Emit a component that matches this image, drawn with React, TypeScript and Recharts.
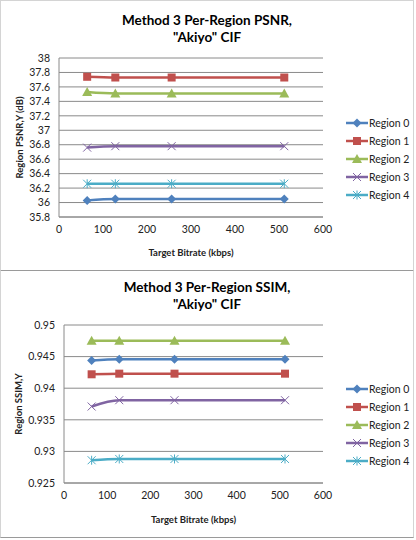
import React from "react";
import { LineChart, Line, XAxis, YAxis, CartesianGrid, Label } from "recharts";

const BITRATES = [64, 128, 256, 512];
const X_TICKS = [0, 100, 200, 300, 400, 500, 600];

const PSNR_TICKS = [35.8, 36, 36.2, 36.4, 36.6, 36.8, 37, 37.2, 37.4, 37.6, 37.8, 38];
const PSNR_REGION_0 = [36.03, 36.05, 36.05, 36.05];
const PSNR_REGION_1 = [37.74, 37.73, 37.73, 37.73];
const PSNR_REGION_2 = [37.53, 37.51, 37.51, 37.51];
const PSNR_REGION_3 = [36.76, 36.78, 36.78, 36.78];
const PSNR_REGION_4 = [36.26, 36.26, 36.26, 36.26];

const SSIM_TICKS = [0.925, 0.93, 0.935, 0.94, 0.945, 0.95];
const SSIM_REGION_0 = [0.9444, 0.9446, 0.9446, 0.9446];
const SSIM_REGION_1 = [0.9422, 0.9423, 0.9423, 0.9423];
const SSIM_REGION_2 = [0.9475, 0.9475, 0.9475, 0.9475];
const SSIM_REGION_3 = [0.9371, 0.9381, 0.9381, 0.9381];
const SSIM_REGION_4 = [0.9286, 0.9288, 0.9288, 0.9288];

const REGION_NAMES = ["Region 0", "Region 1", "Region 2", "Region 3", "Region 4"];
const REGION_COLORS = ["#4f81bd", "#c0504d", "#9bbb59", "#8064a2", "#4bacc6"];
const REGION_MARKERS = ["diamond", "square", "triangle", "cross", "star"];

const FONT = "Lato, 'Liberation Sans', sans-serif";
const TEXT = "#222";
const GRID = "#8a8a8a";

function buildRows(series: number[][]) {
  return BITRATES.map((b, i) => {
    const row: Record<string, number> = { bitrate: b };
    series.forEach((s, k) => (row[`r${k}`] = s[i]));
    return row;
  });
}

function Marker({ cx, cy, shape, color }: { cx: number; cy: number; shape: string; color: string }) {
  if (cx == null || cy == null) return null;
  switch (shape) {
    case "diamond":
      return <polygon points={`${cx},${cy - 4.5} ${cx + 4.5},${cy} ${cx},${cy + 4.5} ${cx - 4.5},${cy}`} fill={color} />;
    case "square":
      return <rect x={cx - 4} y={cy - 4} width={8} height={8} fill={color} />;
    case "triangle":
      return <polygon points={`${cx},${cy - 5} ${cx + 5},${cy + 4} ${cx - 5},${cy + 4}`} fill={color} />;
    case "cross":
      return (
        <g stroke={color} strokeWidth={1}>
          <line x1={cx - 4} y1={cy - 4} x2={cx + 4} y2={cy + 4} />
          <line x1={cx - 4} y1={cy + 4} x2={cx + 4} y2={cy - 4} />
        </g>
      );
    default:
      return (
        <g stroke={color} strokeWidth={1}>
          <line x1={cx - 4} y1={cy - 4} x2={cx + 4} y2={cy + 4} />
          <line x1={cx - 4} y1={cy + 4} x2={cx + 4} y2={cy - 4} />
          <line x1={cx} y1={cy - 4.5} x2={cx} y2={cy + 4.5} />
        </g>
      );
  }
}

function LegendBox({ top }: { top: number }) {
  return (
    <div style={{ position: "absolute", left: 345, top, fontFamily: FONT, fontSize: 10.5, color: TEXT }}>
      {REGION_NAMES.map((name, i) => (
        <div key={name} style={{ display: "flex", alignItems: "center", height: 18 }}>
          <svg width={24} height={12} style={{ display: "block" }}>
            <line x1={1} y1={6} x2={23} y2={6} stroke={REGION_COLORS[i]} strokeWidth={2.5} />
            <Marker cx={12} cy={6} shape={REGION_MARKERS[i]} color={REGION_COLORS[i]} />
          </svg>
          <span style={{ marginLeft: 0 }}>{name}</span>
        </div>
      ))}
    </div>
  );
}

interface RegionChartProps {
  top: number;
  height: number;
  title: string[];
  titleTop: number;
  yTitle: string;
  ticks: number[];
  series: number[][];
  plot: { left: number; right: number; top: number; bottom: number };
  yTitleX: number;
  xTitleGap: number;
  legendTop: number;
}

function RegionChart(p: RegionChartProps) {
  const width = 414;
  const xAxisHeight = 44;
  const rows = buildRows(p.series);
  const tick = { fontSize: 10.5, fill: TEXT, fontFamily: FONT };
  return (
    <div style={{ position: "absolute", left: 0, top: p.top, width, height: p.height }}>
      <div
        style={{
          position: "absolute",
          top: p.titleTop,
          width,
          textAlign: "center",
          fontFamily: FONT,
          fontWeight: 700,
          fontSize: 13.5,
          lineHeight: "17px",
          color: "#000",
        }}
      >
        {p.title.map((t) => (
          <div key={t}>{t}</div>
        ))}
      </div>
      <LineChart
        width={width}
        height={p.height}
        data={rows}
        margin={{ top: p.plot.top, right: width - p.plot.right, left: 0, bottom: p.height - p.plot.bottom - xAxisHeight }}
        style={{ position: "absolute", left: 0, top: 0 }}
      >
        <CartesianGrid vertical={false} stroke={GRID} strokeWidth={1} />
        <XAxis
          dataKey="bitrate"
          type="number"
          domain={[0, 600]}
          ticks={X_TICKS}
          height={xAxisHeight}
          axisLine={{ stroke: GRID }}
          tickLine={false}
          tickSize={0}
          tickMargin={9}
          tick={tick}
        >
          <Label
            value="Target Bitrate (kbps)"
            position="insideBottom"
            offset={xAxisHeight - p.xTitleGap - 4}
            style={{ fontFamily: FONT, fontWeight: 700, fontSize: 9.5, fill: TEXT }}
          />
        </XAxis>
        <YAxis
          type="number"
          domain={[p.ticks[0], p.ticks[p.ticks.length - 1]]}
          ticks={p.ticks}
          interval={0}
          width={p.plot.left}
          axisLine={{ stroke: GRID }}
          tickLine={false}
          tickSize={0}
          tickMargin={9}
          tick={tick}
        >
          <Label
            value={p.yTitle}
            angle={-90}
            position="insideLeft"
            offset={p.yTitleX}
            style={{ textAnchor: "middle", fontFamily: FONT, fontWeight: 700, fontSize: 9.5, fill: TEXT }}
          />
        </YAxis>
        {REGION_NAMES.map((name, k) => (
          <Line
            key={name}
            name={name}
            dataKey={`r${k}`}
            type="monotone"
            stroke={REGION_COLORS[k]}
            strokeWidth={2.5}
            isAnimationActive={false}
            dot={(d: any) => (
              <Marker key={`${name}-${d.index}`} cx={d.cx} cy={d.cy} shape={REGION_MARKERS[k]} color={REGION_COLORS[k]} />
            )}
            activeDot={false}
          />
        ))}
      </LineChart>
      <LegendBox top={p.legendTop} />
    </div>
  );
}

export default function App() {
  return (
    <div style={{ position: "relative", width: 416, height: 540, background: "#fff", overflow: "hidden" }}>
      <style>{`body{margin:0}`}</style>
      <div style={{ position: "absolute", left: 0, top: 0, width: 412, height: 269, borderStyle: "solid", borderColor: "#d4d4d4 #d4d4d4 #9a9a9a #d4d4d4", borderWidth: 1 }} />
      <div style={{ position: "absolute", left: 0, top: 270, width: 412, height: 266, borderStyle: "solid", borderColor: "transparent #d4d4d4 #9a9a9a #d4d4d4", borderWidth: 1 }} />
      <RegionChart
        top={0}
        height={270}
        title={["Method 3 Per-Region PSNR,", "\"Akiyo\" CIF"]}
        titleTop={12}
        yTitle="Region PSNR,Y (dB)"
        ticks={PSNR_TICKS}
        series={[PSNR_REGION_0, PSNR_REGION_1, PSNR_REGION_2, PSNR_REGION_3, PSNR_REGION_4]}
        plot={{ left: 59, right: 323, top: 58, bottom: 217 }}
        yTitleX={20}
        xTitleGap={35}
        legendTop={114}
      />
      <RegionChart
        top={270}
        height={268}
        title={["Method 3 Per-Region SSIM,", "\"Akiyo\" CIF"]}
        titleTop={9}
        yTitle="Region SSIM,Y"
        ticks={SSIM_TICKS}
        series={[SSIM_REGION_0, SSIM_REGION_1, SSIM_REGION_2, SSIM_REGION_3, SSIM_REGION_4]}
        plot={{ left: 64, right: 323, top: 55, bottom: 213 }}
        yTitleX={19}
        xTitleGap={36}
        legendTop={110}
      />
    </div>
  );
}
